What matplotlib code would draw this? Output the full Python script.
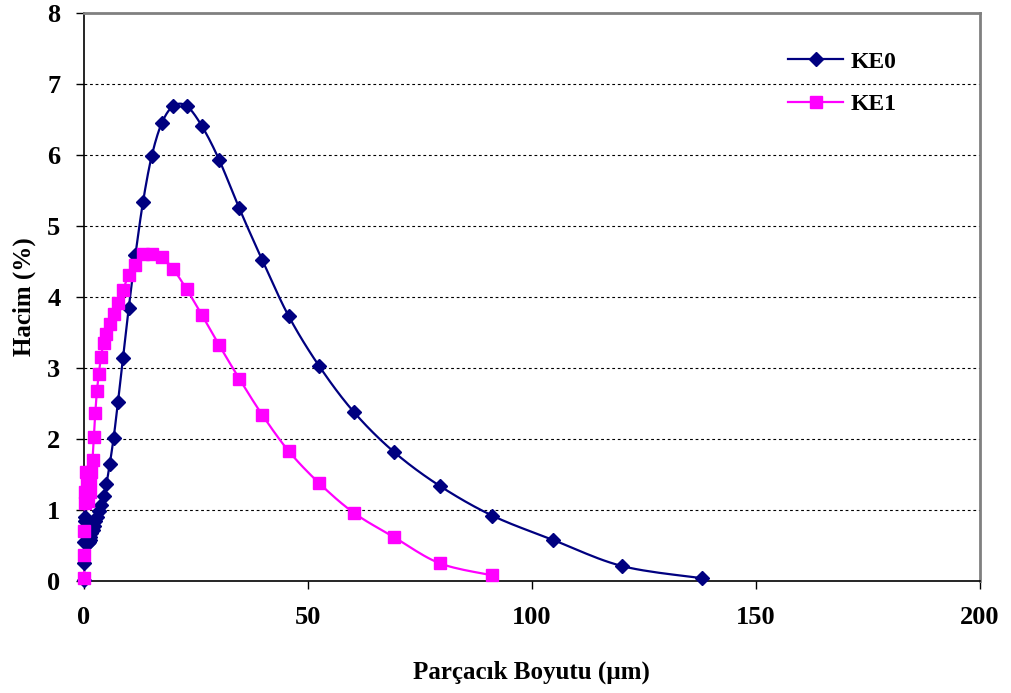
import numpy as np
import matplotlib
matplotlib.use("Agg")
from matplotlib import pyplot as plt

# Boyut siniflari (um) ve hacim yuzdeleri
boyut_ke0 = [0.02, 0.05, 0.1, 0.2, 0.3, 0.5, 0.955, 1.096, 1.259, 1.445, 1.660,
             1.905, 2.188, 2.512, 2.884, 3.311, 3.802, 4.365, 5.012, 5.754,
             6.607, 7.586, 8.710, 10.0, 11.48, 13.18, 15.14, 17.38, 19.95,
             22.91, 26.30, 30.20, 34.67, 39.81, 45.71, 52.48, 60.26, 69.18,
             79.43, 91.20, 104.7, 120.2, 138.0]
hacim_ke0 = [0.01, 0.25, 0.55, 0.84, 0.90, 0.72, 0.54, 0.55, 0.58, 0.62, 0.67,
             0.72, 0.78, 0.84, 0.90, 0.98, 1.07, 1.20, 1.37, 1.65,
             2.01, 2.52, 3.14, 3.85, 4.59, 5.34, 5.99, 6.45, 6.69,
             6.69, 6.41, 5.93, 5.25, 4.52, 3.73, 3.03, 2.38, 1.82,
             1.34, 0.92, 0.58, 0.21, 0.04]

boyut_ke1 = [0.02, 0.05, 0.1, 0.2, 0.3, 0.5, 0.7, 0.955, 1.259, 1.445,
             1.660, 1.905, 2.188, 2.512, 2.884, 3.311, 3.802, 4.365, 5.012,
             5.754, 6.607, 7.586, 8.710, 10.0, 11.48, 13.18, 15.14, 17.38,
             19.95, 22.91, 26.30, 30.20, 34.67, 39.81, 45.71, 52.48, 60.26,
             69.18, 79.43, 91.20]
hacim_ke1 = [0.04, 0.37, 0.70, 1.10, 1.26, 1.54, 1.38, 1.12, 1.26, 1.42,
             1.54, 1.71, 2.03, 2.36, 2.67, 2.92, 3.16, 3.35, 3.48,
             3.62, 3.76, 3.92, 4.10, 4.31, 4.45, 4.60, 4.61, 4.56,
             4.39, 4.11, 3.75, 3.32, 2.85, 2.34, 1.83, 1.38, 0.96,
             0.62, 0.25, 0.08]

x_ticks = [0, 50, 100, 150, 200]
y_ticks = [0, 1, 2, 3, 4, 5, 6, 7, 8]


def yumusat(x, y, n=12):
    # Excel benzeri yumusak cizgi (Catmull-Rom)
    x = np.asarray(x, float)
    y = np.asarray(y, float)
    px = np.concatenate([[x[0]], x, [x[-1]]])
    py = np.concatenate([[y[0]], y, [y[-1]]])
    xs, ys = [], []
    t = np.linspace(0, 1, n, endpoint=False)
    for i in range(1, len(px) - 2):
        for p, out in ((px, xs), (py, ys)):
            p0, p1, p2, p3 = p[i - 1], p[i], p[i + 1], p[i + 2]
            out.extend(0.5 * ((2 * p1) + (-p0 + p2) * t
                              + (2 * p0 - 5 * p1 + 4 * p2 - p3) * t ** 2
                              + (-p0 + 3 * p1 - 3 * p2 + p3) * t ** 3))
    xs.append(x[-1])
    ys.append(y[-1])
    return xs, ys


plt.rcParams['font.family'] = ['Liberation Serif', 'DejaVu Serif']
plt.rcParams['font.weight'] = 'bold'

fig = plt.figure(figsize=(10.12, 6.93), dpi=100)
ax = fig.add_axes([0.083, 0.1616, 0.885, 0.8197])

for y in y_ticks[1:-1]:
    ax.axhline(y, color='black', lw=0.8, ls=(0, (2.5, 2.5)), zorder=1)

sx, sy = yumusat(boyut_ke0, hacim_ke0)
ax.plot(sx, sy, color='#000080', lw=1.6, zorder=3, clip_on=False)
ax.plot(boyut_ke0, hacim_ke0, ls='none', marker='D', ms=7.5,
        color='#000080', zorder=4, clip_on=False)
sx, sy = yumusat(boyut_ke1, hacim_ke1)
ax.plot(sx, sy, color='#FF00FF', lw=1.6, zorder=3, clip_on=False)
ax.plot(boyut_ke1, hacim_ke1, ls='none', marker='s', ms=8,
        color='#FF00FF', zorder=4, clip_on=False)

# lejant
h0, = ax.plot([], [], color='#000080', lw=1.6, marker='D', ms=7.5)
h1, = ax.plot([], [], color='#FF00FF', lw=1.6, marker='s', ms=8)
ax.legend([h0, h1], ['KE0', 'KE1'], loc='upper left', frameon=False,
          bbox_to_anchor=(0.786, 0.933), borderaxespad=0, borderpad=0,
          handlelength=2.35, handletextpad=0.3, labelspacing=0.88,
          prop={'weight': 'bold', 'size': 17})

ax.set_xlim(0, 200)
ax.set_ylim(0, 8)
ax.set_xticks(x_ticks)
ax.set_yticks(y_ticks)
ax.tick_params(axis='both', labelsize=19, direction='out', length=6,
               width=1)
ax.tick_params(axis='y', pad=11)
ax.tick_params(axis='x', pad=12)
for s in ('left', 'bottom'):
    ax.spines[s].set_color('black')
    ax.spines[s].set_linewidth(1.2)
for s in ('top', 'right'):
    ax.spines[s].set_color('#808080')
    ax.spines[s].set_linewidth(2)

ax.set_xlabel('Parçacık Boyutu (µm)', fontsize=18, fontweight='bold',
              labelpad=23)
ax.set_ylabel('Hacim (%)', fontsize=18, fontweight='bold', labelpad=8)

fig.savefig('out.png', dpi=100)
